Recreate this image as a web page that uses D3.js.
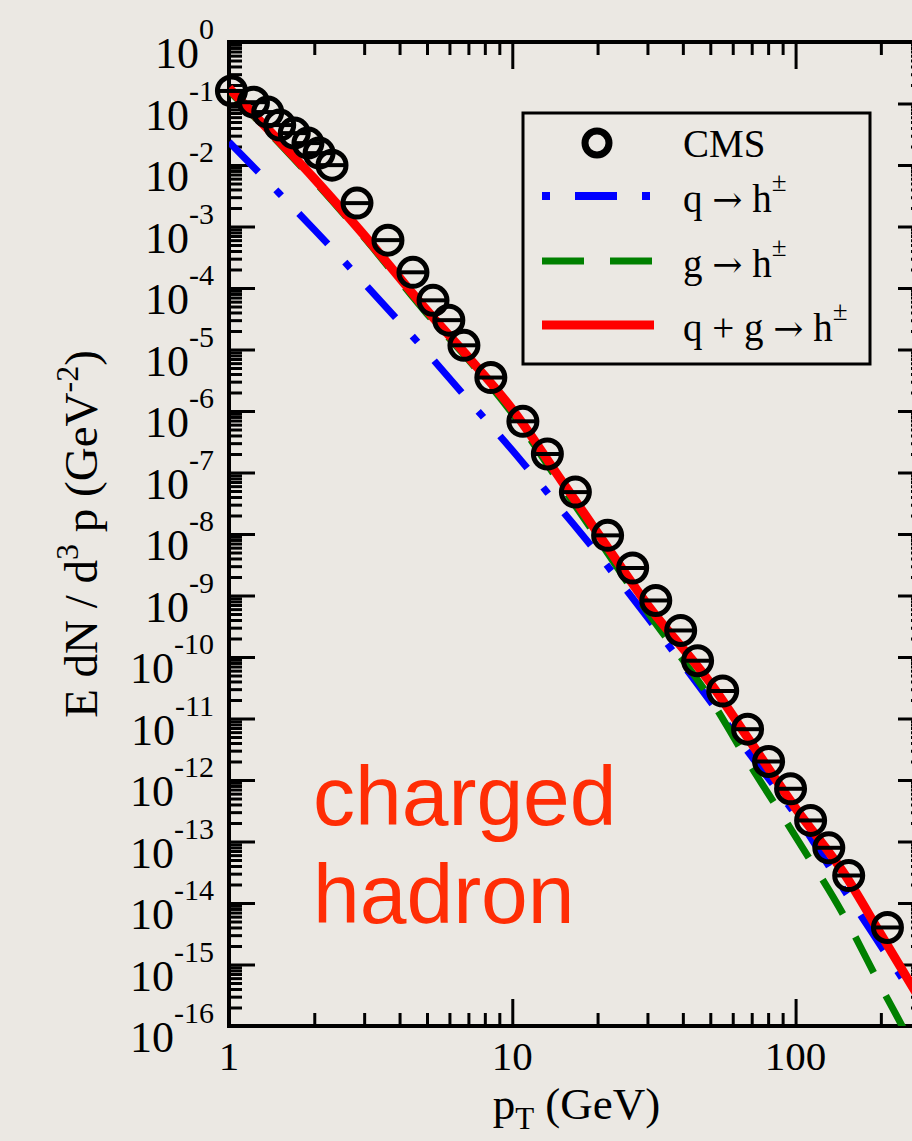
<!DOCTYPE html>
<html>
<head>
<meta charset="utf-8">
<script src="https://cdn.jsdelivr.net/npm/d3@7"></script>
<style>
  html, body { margin: 0; padding: 0; background: #ebe8e3; }
  svg { display: block; }
</style>
</head>
<body>
<svg id="chart" width="912" height="1141"></svg>
<script>
// CMS charged hadron points
const cmsPt = [1.02, 1.22, 1.37, 1.51, 1.70, 1.90, 2.08, 2.31, 2.83, 3.64, 4.46, 5.25, 5.97, 6.75, 8.40,
  10.9, 13.3, 16.7, 21.7, 26.6, 32.1, 39.3, 45.1, 55.3, 67.7, 80.3, 96.0, 113, 131, 154, 211];
const cmsYield = [0.16, 0.105, 0.0726, 0.0446, 0.033, 0.0227, 0.0156, 0.00995, 2.4e-3, 6.0e-4, 1.8e-4,
  6.3e-5, 3.0e-5, 1.17e-5, 3.5e-6, 6.8e-7, 2.0e-7, 4.8e-8, 9.5e-9, 2.8e-9, 8.3e-10, 2.7e-10, 8.7e-11,
  2.8e-11, 6.7e-12, 2.0e-12, 7.2e-13, 2.2e-13, 7.9e-14, 2.8e-14, 4.0e-15];

// model curves
const curvePt = [1, 1.5, 2, 3, 5, 7, 10, 15, 20, 30, 50, 70, 100, 150, 200, 250, 300];
const quarkToH = [0.0236, 3.5e-3, 8.9e-4, 1.2e-4, 8.9e-6, 1.5e-6, 2.3e-7, 2.4e-8, 4.8e-9, 4.4e-10,
  1.9e-11, 2.4e-12, 2.7e-13, 1.5e-14, 2.0e-15, 4.2e-16, 1.2e-16];
const gluonToH = [0.162, 0.0229, 5.5e-3, 6.6e-4, 3.8e-5, 6.8e-6, 9.1e-7, 5.9e-8, 8.5e-9, 5.4e-10,
  2.1e-11, 1.6e-12, 1.2e-13, 5.6e-15, 4.4e-16, 6.3e-17, 1.0e-17];
const sumToH = [0.178, 0.0249, 6.0e-3, 7.2e-4, 4.3e-5, 7.5e-6, 1.07e-6, 7.1e-8, 1.05e-8, 7.1e-10,
  3.8e-11, 3.9e-12, 3.5e-13, 2.8e-14, 3.1e-15, 5.6e-16, 1.4e-16];

const xTickLabels = ['1', '10', '100'];
const yExponents = d3.range(0, -17, -1);
const legendLabels = ['CMS', 'q \u2192 h', 'g \u2192 h', 'q + g \u2192 h'];

const pLeft = 229, pRight = 924, pTop = 42, pBottom = 1026;
const xScale = d3.scaleLog().domain([1, 284]).range([pLeft, pRight]);
const yScale = d3.scaleLog().domain([1e-16, 1]).range([pBottom, pTop]);

const svg = d3.select('#chart');
const serif = "'Liberation Serif', 'Times New Roman', serif";

// clip for the curves
svg.append('defs').append('clipPath').attr('id', 'plotClip')
  .append('rect').attr('x', pLeft).attr('y', pTop).attr('width', pRight - pLeft).attr('height', pBottom - pTop);

// minor / major tick values
const xMinor = [];
[1, 10, 100].forEach(b => { for (let k = 2; k <= 9; k++) if (b * k < 284) xMinor.push(b * k); });
const xMajor = [1, 10, 100];
const yMajor = yExponents.map(e => Math.pow(10, e));
const yMinor = [];
yExponents.slice(1).forEach(e => { for (let k = 2; k <= 9; k++) yMinor.push(k * Math.pow(10, e)); });

function styleAxis(g) {
  g.select('.domain').remove();
  g.selectAll('line').attr('stroke', '#000').attr('stroke-width', 3);
  g.selectAll('text').remove();
}

// ticks on all four sides, pointing inward
svg.append('g').attr('transform', `translate(0,${pBottom})`)
  .call(d3.axisBottom(xScale).tickValues(xMajor).tickSize(-27)).call(styleAxis);
svg.append('g').attr('transform', `translate(0,${pBottom})`)
  .call(d3.axisBottom(xScale).tickValues(xMinor).tickSize(-13)).call(styleAxis);
svg.append('g').attr('transform', `translate(0,${pTop})`)
  .call(d3.axisTop(xScale).tickValues(xMajor).tickSize(-27)).call(styleAxis);
svg.append('g').attr('transform', `translate(0,${pTop})`)
  .call(d3.axisTop(xScale).tickValues(xMinor).tickSize(-13)).call(styleAxis);
svg.append('g').attr('transform', `translate(${pLeft},0)`)
  .call(d3.axisLeft(yScale).tickValues(yMajor).tickSize(-26)).call(styleAxis);
svg.append('g').attr('transform', `translate(${pLeft},0)`)
  .call(d3.axisLeft(yScale).tickValues(yMinor).tickSize(-13)).call(styleAxis);
svg.append('g').attr('transform', `translate(${pRight},0)`)
  .call(d3.axisRight(yScale).tickValues(yMajor).tickSize(-26)).call(styleAxis);
svg.append('g').attr('transform', `translate(${pRight},0)`)
  .call(d3.axisRight(yScale).tickValues(yMinor).tickSize(-13)).call(styleAxis);

// frame
svg.append('rect')
  .attr('x', pLeft).attr('y', pTop).attr('width', pRight - pLeft).attr('height', pBottom - pTop)
  .attr('fill', 'none').attr('stroke', '#000').attr('stroke-width', 4);

// y tick labels 10^n
yExponents.forEach(e => {
  const t = svg.append('text')
    .attr('x', 214).attr('y', yScale(Math.pow(10, e)) + 26)
    .attr('text-anchor', 'end')
    .attr('font-family', serif).attr('font-size', 44).attr('fill', '#000');
  t.append('tspan').text('10');
  t.append('tspan').attr('dy', -29).attr('font-size', 30).text(e === 0 ? '0' : String(e));
});

// x tick labels
svg.selectAll('.xlab').data(xMajor).join('text')
  .attr('class', 'xlab')
  .attr('x', d => xScale(d)).attr('y', 1070)
  .attr('text-anchor', 'middle')
  .attr('font-family', serif).attr('font-size', 41)
  .text((d, i) => xTickLabels[i]);

// axis titles
const xt = svg.append('text')
  .attr('x', (pLeft + pRight) / 2).attr('y', 1119)
  .attr('text-anchor', 'middle')
  .attr('font-family', serif).attr('font-size', 45);
xt.append('tspan').text('p');
xt.append('tspan').attr('dy', 10).attr('font-size', 31).text('T');
xt.append('tspan').attr('dy', -10).text(' (GeV)');

const yt = svg.append('text')
  .attr('transform', `translate(97,${(pTop + pBottom) / 2}) rotate(-90)`)
  .attr('text-anchor', 'middle')
  .attr('font-family', serif).attr('font-size', 47);
yt.append('tspan').text('E dN / d');
yt.append('tspan').attr('dy', -19).attr('font-size', 32).text('3');
yt.append('tspan').attr('dy', 19).text(' p (GeV');
yt.append('tspan').attr('dy', -19).attr('font-size', 32).text('-2');
yt.append('tspan').attr('dy', 19).text(')');

// curves
const line = d3.line()
  .x((d, i) => xScale(curvePt[i]))
  .y(d => yScale(d))
  .curve(d3.curveMonotoneX);

const plot = svg.append('g').attr('clip-path', 'url(#plotClip)');

plot.append('path').attr('d', line(quarkToH))
  .attr('fill', 'none').attr('stroke', '#0000ff').attr('stroke-width', 7)
  .attr('stroke-dasharray', '42 25 8 25');
plot.append('path').attr('d', line(gluonToH))
  .attr('fill', 'none').attr('stroke', '#008000').attr('stroke-width', 7)
  .attr('stroke-dasharray', '40 26');

// CMS circles with horizontal bar
const pts = svg.append('g');
cmsPt.forEach((p, i) => {
  const cx = xScale(p), cy = yScale(cmsYield[i]);
  pts.append('circle').attr('cx', cx).attr('cy', cy).attr('r', 14)
    .attr('fill', 'none').attr('stroke', '#000').attr('stroke-width', 5);
  pts.append('line').attr('x1', cx - 14).attr('x2', cx + 14).attr('y1', cy).attr('y2', cy)
    .attr('stroke', '#000').attr('stroke-width', 4);
});

plot.append('path').attr('d', line(sumToH))
  .attr('fill', 'none').attr('stroke', '#ff0000').attr('stroke-width', 9);

// legend
const lg = svg.append('g');
lg.append('rect').attr('x', 523).attr('y', 113).attr('width', 347).attr('height', 251)
  .attr('fill', 'none').attr('stroke', '#000').attr('stroke-width', 3);
const rowY = [143, 196, 261, 325];
const textY = [157, 212, 277, 341];
lg.append('circle').attr('cx', 597).attr('cy', rowY[0]).attr('r', 12)
  .attr('fill', 'none').attr('stroke', '#000').attr('stroke-width', 7);
lg.append('line').attr('x1', 542).attr('x2', 652).attr('y1', rowY[1]).attr('y2', rowY[1])
  .attr('stroke', '#0000ff').attr('stroke-width', 8).attr('stroke-dasharray', '8 25 42 25 8');
lg.append('line').attr('x1', 542).attr('x2', 652).attr('y1', rowY[2]).attr('y2', rowY[2])
  .attr('stroke', '#008000').attr('stroke-width', 7).attr('stroke-dasharray', '42 26');
lg.append('line').attr('x1', 542).attr('x2', 654).attr('y1', rowY[3]).attr('y2', rowY[3])
  .attr('stroke', '#ff0000').attr('stroke-width', 9);
legendLabels.forEach((lab, i) => {
  const t = lg.append('text').attr('x', 683).attr('y', textY[i])
    .attr('font-family', serif).attr('font-size', 39);
  const parts = lab.split('\u2192');
  t.append('tspan').text(parts[0]);
  if (parts.length > 1) {
    t.append('tspan').attr('font-family', "'DejaVu Serif', serif").attr('font-size', 36).text('\u2192');
    t.append('tspan').text(parts[1]);
    t.append('tspan').attr('dy', -21).attr('font-size', 27).text('\u00b1');
  }
});

// annotation
svg.append('text').attr('x', 313).attr('y', 825)
  .attr('font-family', "'Liberation Sans', Arial, sans-serif").attr('font-size', 84)
  .attr('fill', '#ff2d05').text('charged');
svg.append('text').attr('x', 313).attr('y', 923)
  .attr('font-family', "'Liberation Sans', Arial, sans-serif").attr('font-size', 84)
  .attr('fill', '#ff2d05').text('hadron');
</script>
</body>
</html>
